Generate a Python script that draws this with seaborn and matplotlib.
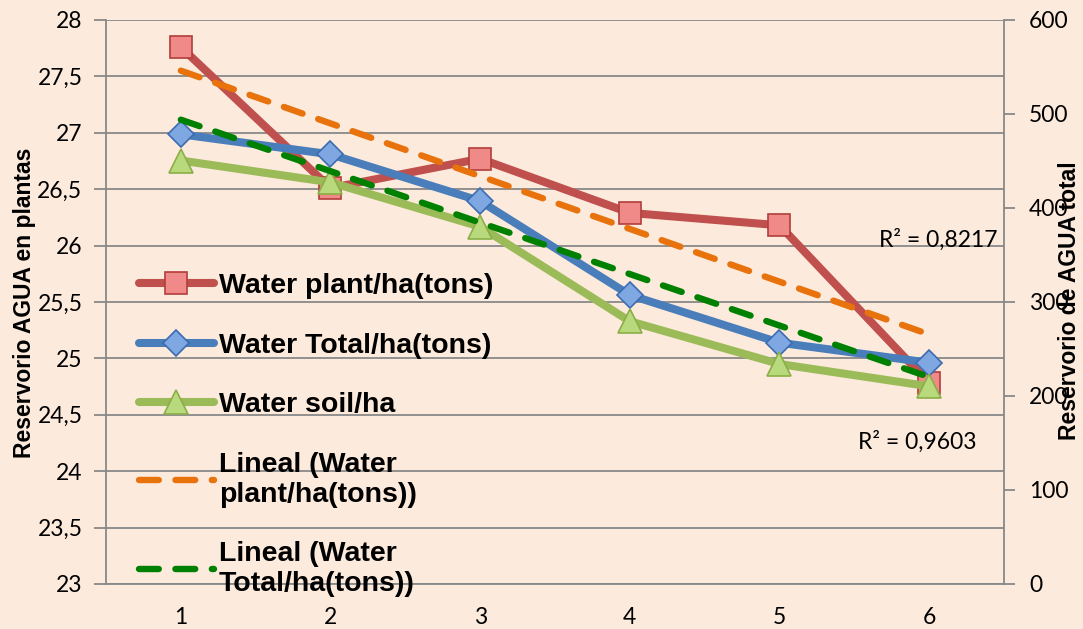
import matplotlib
matplotlib.use("Agg")
import matplotlib.pyplot as plt
from matplotlib.lines import Line2D
from matplotlib.font_manager import FontProperties
import seaborn as sns
import numpy as np

# ---- data ----
x_vals = [1, 2, 3, 4, 5, 6]
x_labels = ["1", "2", "3", "4", "5", "6"]
water_plant = [27.76, 26.51, 26.77, 26.29, 26.18, 24.78]   # left axis
water_total = [478.4, 457.1, 407.4, 307.4, 256.7, 235.4]   # right axis
water_soil = [450.5, 427.3, 380.1, 279.5, 234.0, 210.3]    # right axis
left_ticks = [23, 23.5, 24, 24.5, 25, 25.5, 26, 26.5, 27, 27.5, 28]
left_tick_labels = ["23", "23,5", "24", "24,5", "25", "25,5", "26", "26,5", "27", "27,5", "28"]
right_ticks = [0, 100, 200, 300, 400, 500, 600]
right_tick_labels = ["0", "100", "200", "300", "400", "500", "600"]
series_names = ["Water plant/ha(tons)", "Water Total/ha(tons)", "Water soil/ha",
                "Lineal (Water\nplant/ha(tons))", "Lineal (Water\nTotal/ha(tons))"]
r2_plant = "R² = 0,8217"
r2_total = "R² = 0,9603"
left_label = "Reservorio AGUA en plantas"
right_label = "Reservorio de AGUA total"

# ---- style ----
BG = "#FCEADC"
GRID = "#898989"
RED, RED_F, RED_E = "#C0504D", "#F08A88", "#B23E3B"
BLUE, BLUE_F, BLUE_E = "#4A7EBB", "#7FA8E2", "#3C6CB0"
GREEN, GREEN_F, GREEN_E = "#9BBB59", "#B8DA7C", "#8CAE48"
ORANGE = "#E8720C"
DGREEN = "#008000"
TICK_FONT = "Lato"
TICK_SIZE = 16.5

sns.set_style("white")
plt.rcParams["font.family"] = ["Lato", "DejaVu Sans"]
plt.rcParams["text.color"] = "black"
plt.rcParams["xtick.labelcolor"] = "black"
plt.rcParams["ytick.labelcolor"] = "black"

W, H = 1083, 629
fig = plt.figure(figsize=(W / 100, H / 100), dpi=100, facecolor=BG)
ax = fig.add_axes([106 / W, 1 - 584 / H, (1004 - 106) / W, (584 - 20) / H])
ax.set_facecolor(BG)
ax2 = ax.twinx()

lw = 5.8
dash_kw = dict(lw=4.6, linestyle=(0, (3.1, 2.6)), dash_capstyle="round")

# left axis series
sns.lineplot(x=x_vals, y=water_plant, ax=ax, color=RED, lw=lw, marker="s", markersize=15.5,
             markerfacecolor=RED_F, markeredgecolor=RED_E, markeredgewidth=1.2, zorder=3)
sns.regplot(x=x_vals, y=water_plant, ax=ax, scatter=False, ci=None, truncate=True,
            line_kws=dict(color=ORANGE, zorder=4, **dash_kw))

# right axis series
sns.lineplot(x=x_vals, y=water_total, ax=ax2, color=BLUE, lw=lw, marker="D", markersize=13,
             markerfacecolor=BLUE_F, markeredgecolor=BLUE_E, markeredgewidth=1.2, zorder=3)
sns.lineplot(x=x_vals, y=water_soil, ax=ax2, color=GREEN, lw=lw, marker="^", markersize=17,
             markerfacecolor=GREEN_F, markeredgecolor=GREEN_E, markeredgewidth=1.2, zorder=4)
sns.regplot(x=x_vals, y=water_total, ax=ax2, scatter=False, ci=None, truncate=True,
            line_kws=dict(color=DGREEN, zorder=5, **dash_kw))

# axes limits / ticks
ax.set_xlim(0.5, 6.5)
ax.set_ylim(23, 28)
ax2.set_ylim(0, 600)
ax.set_xticks(x_vals)
ax.set_xticklabels(x_labels)
ax.set_xticks(np.arange(0.5, 7.0, 1.0), minor=True)
ax.tick_params(axis="x", which="major", length=0, pad=16.5, labelsize=TICK_SIZE, labelcolor="black")
ax.tick_params(axis="x", which="minor", length=8, width=1.3, color=GRID, direction="out")
ax.set_yticks(left_ticks)
ax.set_yticklabels(left_tick_labels)
ax.tick_params(axis="y", length=9, width=1.3, color=GRID, pad=8, labelsize=TICK_SIZE,
               direction="out", labelcolor="black")
ax2.set_yticks(right_ticks)
ax2.set_yticklabels(right_tick_labels)
ax2.tick_params(axis="y", length=8, width=1.3, color=GRID, pad=10, labelsize=TICK_SIZE,
                direction="out", labelcolor="black")
for t in ax.get_xticklabels() + ax.get_yticklabels() + ax2.get_yticklabels():
    t.set_fontfamily(TICK_FONT)

ax.set_xlabel("")
ax.set_ylabel("")
ax2.set_ylabel("")

ax.grid(axis="y", color=GRID, lw=1.3)
ax.grid(axis="x", visible=False)
ax.set_axisbelow(True)

for a in (ax, ax2):
    a.spines["top"].set_visible(False)
    for s in ("left", "right", "bottom"):
        a.spines[s].set_color(GRID)
        a.spines[s].set_linewidth(1.3)
ax.spines["right"].set_visible(False)
ax2.spines["left"].set_visible(False)
ax2.spines["bottom"].set_visible(False)

# R² annotations
fig.text(938 / W, 1 - 240 / H, r2_plant, ha="center", va="center", fontsize=TICK_SIZE,
         family=TICK_FONT, color="black")
fig.text(917 / W, 1 - 442 / H, r2_total, ha="center", va="center", fontsize=TICK_SIZE,
         family=TICK_FONT, color="black")

# axis titles
lab_font = dict(family=["Liberation Sans", "DejaVu Sans"], weight="bold", fontsize=16.5,
                color="black")
fig.text(25 / W, 1 - 303 / H, left_label, rotation=90, ha="center", va="center", **lab_font)
fig.text(1070 / W, 1 - 301 / H, right_label, rotation=90, ha="center", va="center", **lab_font)

# legend
handles = [
    Line2D([], [], color=RED, lw=lw, marker="s", markersize=15.5, markerfacecolor=RED_F,
           markeredgecolor=RED_E, markeredgewidth=1.2),
    Line2D([], [], color=BLUE, lw=lw, marker="D", markersize=13, markerfacecolor=BLUE_F,
           markeredgecolor=BLUE_E, markeredgewidth=1.2),
    Line2D([], [], color=GREEN, lw=lw, marker="^", markersize=17, markerfacecolor=GREEN_F,
           markeredgecolor=GREEN_E, markeredgewidth=1.2),
    Line2D([], [], color=ORANGE, **dash_kw),
    Line2D([], [], color=DGREEN, **dash_kw),
]
leg = ax2.legend(handles, series_names, loc="upper left",
                 bbox_to_anchor=(139 / W, 1 - 273 / H), bbox_transform=fig.transFigure,
                 frameon=False, borderpad=0, borderaxespad=0, handlelength=2.63,
                 handletextpad=0.18, labelspacing=1.18, numpoints=1,
                 prop=FontProperties(family=["Liberation Sans", "DejaVu Sans"], weight="bold",
                                     size=20.5))
for t in leg.get_texts():
    t.set_color("black")
leg.set_zorder(10)

fig.savefig("out.png", dpi=100, facecolor=BG)
